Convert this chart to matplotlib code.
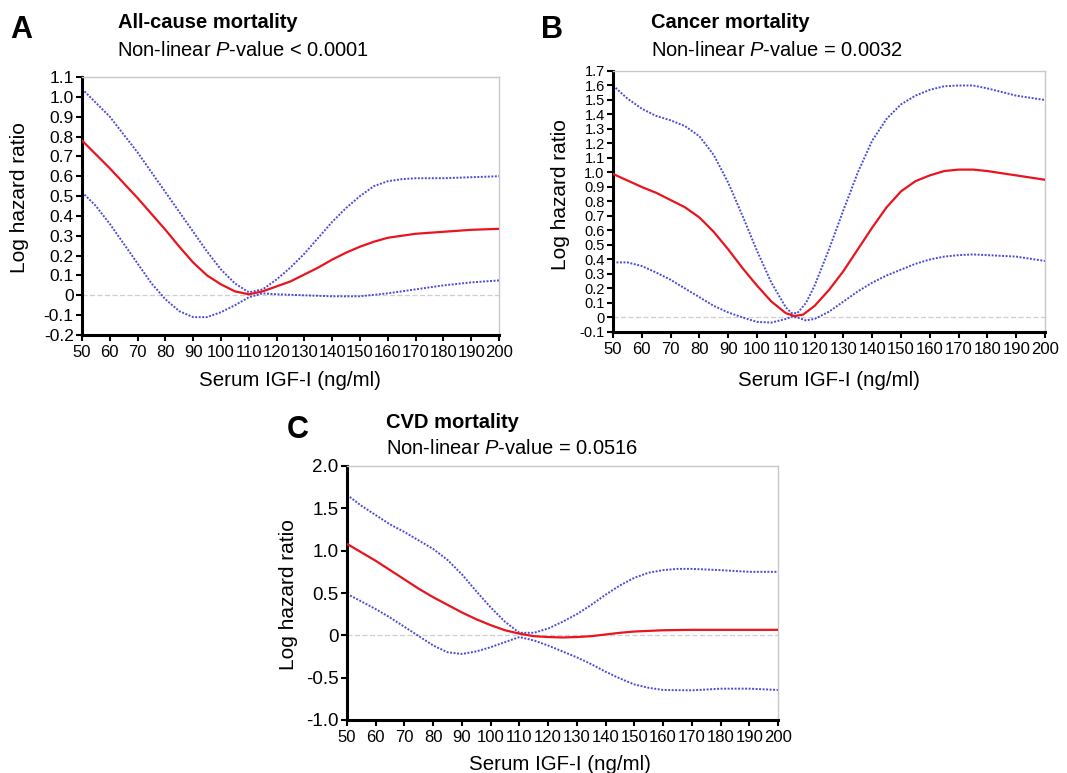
import matplotlib
matplotlib.use("Agg")

import numpy as np
import matplotlib.pyplot as plt

plt.rcParams["font.family"] = ["Liberation Sans", "DejaVu Sans"]
plt.rcParams["mathtext.fontset"] = "custom"
plt.rcParams["mathtext.rm"] = "Liberation Sans"
plt.rcParams["mathtext.it"] = "Liberation Sans:italic"

W, H = 1067, 773

# --- panel A: all-cause mortality ---
a_est_x = [50, 55, 60, 65, 70, 75, 80, 85, 90, 95, 100, 105, 110, 115, 120, 125, 130, 135, 140, 145, 150, 155, 160, 165, 170, 180, 190, 200]
a_est = [0.78, 0.71, 0.64, 0.565, 0.49, 0.41, 0.33, 0.245, 0.165, 0.10, 0.055, 0.02, 0.005, 0.02, 0.045, 0.07, 0.105, 0.14, 0.18, 0.215, 0.245, 0.27, 0.29, 0.30, 0.31, 0.32, 0.33, 0.335]
a_up_x = [50, 55, 60, 65, 70, 75, 80, 85, 90, 95, 100, 105, 110, 115, 120, 125, 130, 135, 140, 145, 150, 155, 160, 165, 170, 180, 190, 200]
a_up = [1.04, 0.97, 0.90, 0.81, 0.72, 0.62, 0.52, 0.42, 0.32, 0.22, 0.13, 0.06, 0.015, 0.03, 0.08, 0.14, 0.21, 0.29, 0.37, 0.44, 0.50, 0.55, 0.575, 0.585, 0.59, 0.59, 0.595, 0.60]
a_lo_x = [50, 55, 60, 65, 70, 75, 80, 85, 90, 95, 100, 105, 110, 115, 120, 130, 140, 150, 160, 170, 180, 190, 200]
a_lo = [0.52, 0.45, 0.36, 0.26, 0.16, 0.06, -0.02, -0.08, -0.11, -0.11, -0.085, -0.05, -0.01, 0.01, 0.005, 0.0, -0.005, -0.005, 0.01, 0.03, 0.05, 0.065, 0.075]

# --- panel B: cancer mortality ---
b_est_x = [50, 55, 60, 65, 70, 75, 80, 85, 90, 95, 100, 105, 110, 113, 116, 120, 125, 130, 135, 140, 145, 150, 155, 160, 165, 170, 175, 180, 190, 200]
b_est = [0.99, 0.945, 0.90, 0.86, 0.81, 0.76, 0.69, 0.59, 0.47, 0.34, 0.22, 0.11, 0.03, 0.01, 0.02, 0.08, 0.19, 0.32, 0.47, 0.62, 0.76, 0.87, 0.94, 0.98, 1.01, 1.02, 1.02, 1.01, 0.98, 0.95]
b_up_x = [50, 55, 60, 65, 70, 75, 80, 85, 90, 95, 100, 105, 110, 112, 114, 117, 120, 125, 130, 135, 140, 145, 150, 155, 160, 165, 170, 175, 180, 190, 200]
b_up = [1.60, 1.51, 1.44, 1.39, 1.36, 1.32, 1.25, 1.12, 0.93, 0.70, 0.46, 0.24, 0.07, 0.03, 0.03, 0.10, 0.22, 0.47, 0.74, 1.00, 1.22, 1.37, 1.47, 1.53, 1.57, 1.595, 1.60, 1.60, 1.58, 1.53, 1.50]
b_lo_x = [50, 55, 60, 65, 70, 75, 80, 85, 90, 95, 100, 105, 110, 112, 114, 117, 120, 125, 130, 135, 140, 145, 150, 155, 160, 165, 170, 175, 180, 190, 200]
b_lo = [0.38, 0.38, 0.355, 0.31, 0.26, 0.20, 0.14, 0.08, 0.035, 0.0, -0.03, -0.035, -0.01, 0.005, 0.0, -0.02, -0.01, 0.04, 0.11, 0.18, 0.24, 0.29, 0.33, 0.37, 0.40, 0.42, 0.43, 0.435, 0.43, 0.42, 0.39]

# --- panel C: CVD mortality ---
c_est_x = [50, 55, 60, 65, 70, 75, 80, 85, 90, 95, 100, 105, 110, 115, 120, 125, 130, 135, 140, 145, 150, 160, 170, 200]
c_est = [1.08, 0.98, 0.88, 0.77, 0.66, 0.55, 0.45, 0.36, 0.27, 0.19, 0.12, 0.06, 0.02, -0.01, -0.02, -0.025, -0.02, -0.01, 0.01, 0.03, 0.045, 0.06, 0.065, 0.065]
c_up_x = [50, 55, 60, 65, 70, 75, 80, 85, 90, 95, 100, 105, 110, 115, 120, 125, 130, 135, 140, 145, 150, 155, 160, 165, 170, 180, 190, 200]
c_up = [1.66, 1.53, 1.42, 1.31, 1.22, 1.12, 1.02, 0.89, 0.72, 0.52, 0.33, 0.16, 0.03, 0.03, 0.08, 0.16, 0.25, 0.36, 0.48, 0.59, 0.68, 0.74, 0.77, 0.785, 0.785, 0.77, 0.75, 0.75]
c_lo_x = [50, 55, 60, 65, 70, 75, 80, 85, 90, 95, 100, 105, 110, 115, 120, 125, 130, 135, 140, 145, 150, 155, 160, 170, 180, 190, 200]
c_lo = [0.49, 0.40, 0.31, 0.21, 0.10, -0.01, -0.12, -0.20, -0.22, -0.19, -0.14, -0.08, -0.02, -0.06, -0.12, -0.19, -0.26, -0.34, -0.43, -0.51, -0.58, -0.62, -0.645, -0.65, -0.63, -0.63, -0.645]

a_yticks = [round(-0.2 + 0.1 * i, 1) for i in range(14)]
b_yticks = [round(-0.1 + 0.1 * i, 1) for i in range(19)]
c_yticks = [-1.0, -0.5, 0, 0.5, 1.0, 1.5, 2.0]
xticks = list(range(50, 201, 10))


def ylab(v):
    if v == 0:
        return "0"
    return f"{v:.1f}"


def px_axes(fig, left, top, right, bottom):
    return fig.add_axes([left / W, 1 - bottom / H, (right - left) / W, (bottom - top) / H])


def draw(ax, series, yticks, ylim, ysize):
    (ex, est), (ux, up), (lx, lo) = series
    ax.axhline(0, color="#cfcfcf", lw=0.9, ls=(0, (4, 2)), zorder=1)
    ax.plot(ux, up, color="#4b4bd6", lw=1.4, ls=(0, (1, 0.8)), zorder=2)
    ax.plot(lx, lo, color="#4b4bd6", lw=1.4, ls=(0, (1, 0.8)), zorder=2)
    ax.plot(ex, est, color="#e8141e", lw=1.6, zorder=3)
    ax.set_xlim(50, 200)
    ax.set_ylim(*ylim)
    ax.set_xticks(xticks)
    ax.set_xticklabels([str(t) for t in xticks], fontsize=12)
    ax.set_yticks(yticks)
    ax.set_yticklabels([ylab(v) for v in yticks], fontsize=ysize)
    ax.tick_params(direction="out", length=4, width=1.5, pad=2)
    ax.tick_params(axis="x", pad=3)
    for s in ["left", "bottom"]:
        ax.spines[s].set_linewidth(2.2)
        ax.spines[s].set_color("black")
    for s in ["top", "right"]:
        ax.spines[s].set_linewidth(1.0)
        ax.spines[s].set_color("#c8c8c8")


fig = plt.figure(figsize=(W / 100, H / 100), dpi=100)

axA = px_axes(fig, 82, 77, 499, 335)
draw(axA, [(a_est_x, a_est), (a_up_x, a_up), (a_lo_x, a_lo)], a_yticks, (-0.2, 1.1), 12.5)
axB = px_axes(fig, 613, 71, 1045, 332)
draw(axB, [(b_est_x, b_est), (b_up_x, b_up), (b_lo_x, b_lo)], b_yticks, (-0.1, 1.7), 10.5)
axC = px_axes(fig, 347, 466, 778, 720)
draw(axC, [(c_est_x, c_est), (c_up_x, c_up), (c_lo_x, c_lo)], c_yticks, (-1.0, 2.0), 13.5)


def ftext(x, y, s, **kw):
    fig.text(x / W, 1 - y / H, s, **kw)


panels = [
    ("A", (10, 30), "All-cause mortality", (118, 22), "Non-linear $\\it{P}$-value < 0.0001", (117, 50),
     (290, 381), (20, 198)),
    ("B", (541, 30), "Cancer mortality", (651, 22), "Non-linear $\\it{P}$-value = 0.0032", (651, 50),
     (829, 380), (560, 195)),
    ("C", (287, 430), "CVD mortality", (386, 423), "Non-linear $\\it{P}$-value = 0.0516", (386, 449),
     (560, 764), (288, 595)),
]

for letter, lp, title, tp, sub, sp, xlp, ylp in panels:
    ftext(*lp, letter, fontsize=22, fontweight="bold", va="center", ha="left")
    ftext(*tp, title, fontsize=14.5, fontweight="bold", va="center", ha="left")
    ftext(*sp, sub, fontsize=14.5, va="center", ha="left")
    ftext(*xlp, "Serum IGF-I (ng/ml)", fontsize=14.8, va="center", ha="center")
    ftext(*ylp, "Log hazard ratio", fontsize=15, va="center", ha="center", rotation=90)

fig.savefig("out.png", dpi=100)
plt.close(fig)
